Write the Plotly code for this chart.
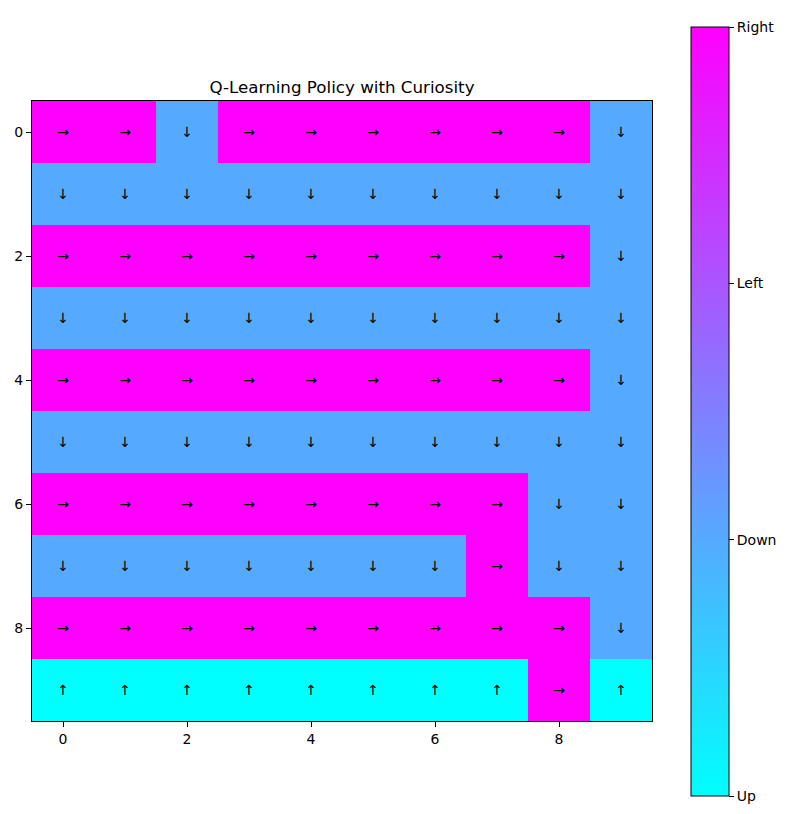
import plotly.graph_objects as go

action_names = ["Up", "Down", "Left", "Right"]
arrow_symbols = ["↑", "↓", "←", "→"]
# Grid policy: 0=Up, 1=Down, 2=Left, 3=Right
policy = [
    [3, 3, 1, 3, 3, 3, 3, 3, 3, 1],
    [1, 1, 1, 1, 1, 1, 1, 1, 1, 1],
    [3, 3, 3, 3, 3, 3, 3, 3, 3, 1],
    [1, 1, 1, 1, 1, 1, 1, 1, 1, 1],
    [3, 3, 3, 3, 3, 3, 3, 3, 3, 1],
    [1, 1, 1, 1, 1, 1, 1, 1, 1, 1],
    [3, 3, 3, 3, 3, 3, 3, 3, 1, 1],
    [1, 1, 1, 1, 1, 1, 1, 3, 1, 1],
    [3, 3, 3, 3, 3, 3, 3, 3, 3, 1],
    [0, 0, 0, 0, 0, 0, 0, 0, 3, 0],
]
tick_vals = [0, 2, 4, 6, 8]

text = [[arrow_symbols[v] for v in row] for row in policy]
n = len(policy)
tick_font = dict(family="DejaVu Sans", size=14, color="black")

fig = go.Figure(go.Heatmap(
    z=policy,
    x=list(range(n)),
    y=list(range(n)),
    text=text,
    texttemplate="%{text}",
    textfont=dict(color="black", size=14, family="DejaVu Sans"),
    colorscale=[[0, "#00ffff"], [1, "#ff00ff"]],
    zmin=0, zmax=3,
    hoverinfo="skip",
    colorbar=dict(
        tickmode="array",
        tickvals=[0, 1, 2, 3],
        ticktext=action_names,
        ticks="outside",
        ticklen=5,
        tickcolor="black",
        outlinecolor="black",
        outlinewidth=1,
        thickness=38,
        thicknessmode="pixels",
        lenmode="pixels",
        len=769,
        x=(691 - 32) / 620,
        xanchor="left",
        xpad=0,
        ypad=0,
        y=(721 - 411.5) / 620,
        yanchor="middle",
        tickfont=tick_font,
    ),
))

fig.update_layout(
    width=791, height=814,
    margin=dict(l=32, r=139, t=101, b=93),
    paper_bgcolor="white",
    plot_bgcolor="white",
    font=dict(family="DejaVu Sans", size=14, color="black"),
    title=dict(text="Q-Learning Policy with Curiosity", x=(32 + 310) / 791, xanchor="center",
               y=1 - 87 / 814, yanchor="middle", font=dict(size=16.7, color="black")),
)
fig.update_xaxes(range=[-0.5, n - 0.5], tickvals=tick_vals, ticks="outside", ticklen=5,
                 tickcolor="black", showline=True, linecolor="black", linewidth=1, mirror=True,
                 showgrid=False, zeroline=False, tickfont=tick_font)
fig.update_yaxes(range=[n - 0.5, -0.5], tickvals=tick_vals, ticks="outside", ticklen=5,
                 tickcolor="black", showline=True, linecolor="black", linewidth=1, mirror=True,
                 showgrid=False, zeroline=False, tickfont=tick_font)

fig.write_html("out.html")
